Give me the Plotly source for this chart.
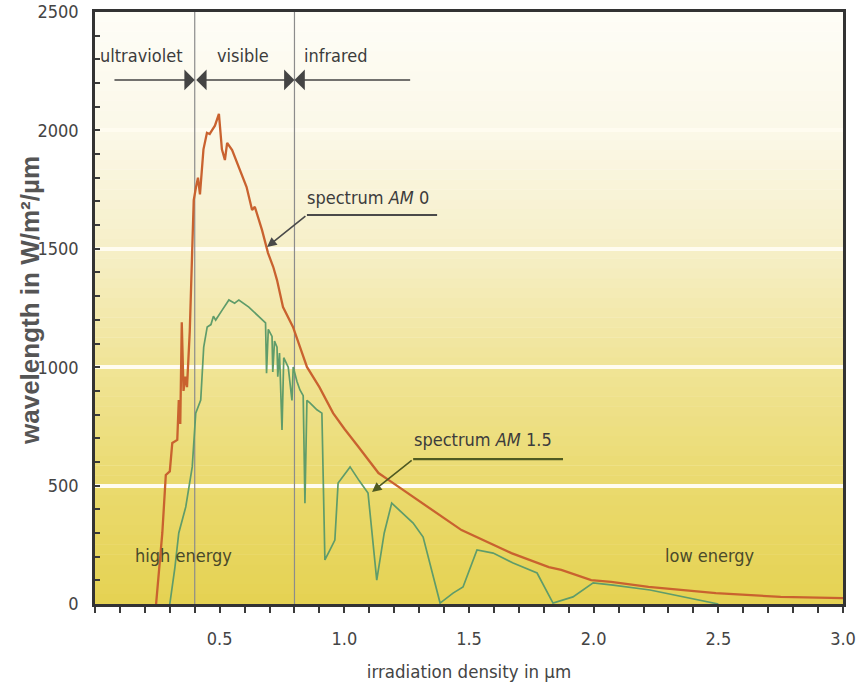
import plotly.graph_objects as go

# ---------------- data ----------------
am0_x = [0.245, 0.26, 0.27, 0.284, 0.30, 0.31, 0.33, 0.336, 0.342, 0.348, 0.355, 0.362, 0.369,
         0.38, 0.396, 0.405, 0.413, 0.421, 0.435, 0.449, 0.46, 0.469, 0.481, 0.497, 0.509, 0.521,
         0.53, 0.55, 0.58, 0.608, 0.63, 0.641, 0.67, 0.694, 0.715, 0.73, 0.754, 0.794, 0.85, 0.9,
         0.955, 1.0, 1.057, 1.137, 1.177, 1.31, 1.47, 1.67, 1.82, 1.87, 1.99, 2.07, 2.22, 2.49,
         2.75, 3.0]
am0_y = [0, 186, 300, 545, 560, 680, 693, 861, 760, 1190, 900, 960, 916,
         1150, 1706, 1760, 1800, 1730, 1920, 1990, 1985, 2000, 2020, 2070, 1920, 1875,
         1947, 1917, 1833, 1761, 1664, 1677, 1579, 1482, 1423, 1368, 1254, 1170, 1001, 916,
         806, 740, 663, 553, 524, 426, 312, 215, 156, 144, 101, 93, 72, 46,
         30, 25]

am15_x = [0.30, 0.32, 0.336, 0.364, 0.39, 0.404, 0.424, 0.436, 0.45, 0.465, 0.475, 0.484, 0.51,
          0.537, 0.56, 0.577, 0.617, 0.64, 0.657, 0.684, 0.688, 0.695, 0.71, 0.713, 0.72, 0.73,
          0.733, 0.74, 0.75, 0.757, 0.775, 0.79, 0.795, 0.81, 0.822, 0.835, 0.842, 0.85, 0.862,
          0.89, 0.91, 0.922, 0.942, 0.962, 0.975, 1.023, 1.06, 1.095, 1.13, 1.16, 1.19, 1.235,
          1.276, 1.316, 1.384, 1.436, 1.476, 1.532, 1.597, 1.677, 1.773, 1.837, 1.917, 1.998,
          2.078, 2.226, 2.36, 2.48, 2.5]
am15_y = [0, 150, 300, 410, 579, 806, 861, 1085, 1170, 1180, 1215, 1199, 1241,
          1284, 1270, 1284, 1254, 1230, 1212, 1187, 975, 1160, 1130, 980, 1110, 1085,
          960, 1060, 735, 1040, 1000, 860, 1001, 940, 904, 880, 426, 860, 849,
          820, 806, 186, 228, 270, 511, 579, 520, 469, 101, 300, 426, 384,
          342, 283, 4, 46, 72, 228, 215, 173, 131, 4, 30, 89,
          80, 59, 30, 4, 0]

x_tick_vals = [0.5, 1.0, 1.5, 2.0, 2.5, 3.0]
x_tick_text = ["0.5", "1.0", "1.5", "2.0", "2.5", "3.0"]
y_tick_vals = [0, 500, 1000, 1500, 2000, 2500]
y_tick_text = ["0", "500", "1000", "1500", "2000", "2500"]

band_bounds = [0.4, 0.8]                      # UV | visible | IR boundaries (µm)
band_names = ["ultraviolet", "visible", "infrared"]
band_label_x = [0.185, 0.594, 0.967]

assert len(am0_x) == len(am0_y)
assert len(am15_x) == len(am15_y)

# ---------------- styling ----------------
NARROW = "DejaVu Sans Condensed, Liberation Sans Narrow, Liberation Sans, sans-serif"
TXT = "#3c3c3c"
X_MAX, Y_MAX = 3.0, 2500
ML, MR, MT, MB = 95, 16, 12, 84
W, H = 859, 688

fig = go.Figure()

fig.add_trace(go.Scatter(x=am0_x, y=am0_y, mode="lines", name="spectrum AM 0",
                         line=dict(color="#c9622f", width=2.3), showlegend=False,
                         hoverinfo="skip"))
fig.add_trace(go.Scatter(x=am15_x, y=am15_y, mode="lines", name="spectrum AM 1.5",
                         line=dict(color="#5f9c6a", width=1.7), showlegend=False,
                         hoverinfo="skip"))

# background gradient (yellow bottom -> white top)
stops = [(0, (0xe5, 0xd2, 0x52)), (500, (0xea, 0xda, 0x6e)), (1000, (0xf0, 0xe4, 0x96)),
         (1500, (0xf6, 0xef, 0xc8)), (2000, (0xfb, 0xf8, 0xe8)), (2500, (0xfe, 0xfd, 0xf7))]


def col_at(v):
    for (v0, c0), (v1, c1) in zip(stops[:-1], stops[1:]):
        if v0 <= v <= v1:
            t = (v - v0) / (v1 - v0)
            return "rgb(%d,%d,%d)" % tuple(round(a + (b - a) * t) for a, b in zip(c0, c1))
    return "rgb(%d,%d,%d)" % stops[-1][1]


shapes = []
n_bands = 60
for i in range(n_bands):
    y0 = Y_MAX * i / n_bands
    y1 = Y_MAX * (i + 1) / n_bands
    shapes.append(dict(type="rect", xref="paper", yref="y", x0=0, x1=1, y0=y0,
                       y1=min(y1 + 2, Y_MAX),
                       fillcolor=col_at((y0 + y1) / 2), line=dict(width=0), layer="below"))

for b in band_bounds:
    shapes.append(dict(type="line", xref="x", yref="y", x0=b, x1=b, y0=0, y1=Y_MAX,
                       line=dict(color="#8c8c8c", width=1.2), layer="between"))

# underlines of the spectrum callouts
shapes.append(dict(type="line", xref="x", yref="y", x0=0.85, x1=1.372, y0=1643, y1=1643,
                   line=dict(color="#4a4a4a", width=2), layer="above"))
shapes.append(dict(type="line", xref="x", yref="y", x0=1.276, x1=1.877, y0=612, y1=612,
                   line=dict(color="#4f5a22", width=2.2), layer="above"))

annotations = []
for name, xc in zip(band_names, band_label_x):
    annotations.append(dict(x=xc, y=2318, xref="x", yref="y", text=name, showarrow=False,
                            font=dict(family=NARROW, size=18, color=TXT)))

arrow_y = 2213
arr = dict(xref="x", yref="y", axref="x", ayref="y", text="", showarrow=True,
           arrowhead=1, arrowsize=2.3, arrowwidth=1.5, arrowcolor="#444444",
           standoff=0, startstandoff=0)
annotations.append(dict(arr, x=band_bounds[0], y=arrow_y, ax=0.072, ay=arrow_y))
annotations.append(dict(arr, x=band_bounds[1], y=arrow_y, ax=band_bounds[0], ay=arrow_y,
                        arrowside="end+start", startarrowhead=1, startarrowsize=2.3))
annotations.append(dict(arr, x=band_bounds[1], y=arrow_y, ax=1.27, ay=arrow_y))

# spectrum callouts
annotations.append(dict(x=1.095, y=1715, xref="x", yref="y", text="spectrum <i>AM</i> 0",
                        showarrow=False, font=dict(family=NARROW, size=18, color=TXT)))
annotations.append(dict(x=0.69, y=1508, ax=0.85, ay=1643, xref="x", yref="y", axref="x",
                        ayref="y", text="", showarrow=True, arrowhead=2, arrowsize=1.2,
                        arrowwidth=1.6, arrowcolor="#4a4a4a", standoff=0, startstandoff=0))
annotations.append(dict(x=1.556, y=693, xref="x", yref="y", text="spectrum <i>AM</i> 1.5",
                        showarrow=False, font=dict(family=NARROW, size=18, color=TXT)))
annotations.append(dict(x=1.111, y=473, ax=1.276, ay=612, xref="x", yref="y", axref="x",
                        ayref="y", text="", showarrow=True, arrowhead=2, arrowsize=1.2,
                        arrowwidth=1.6, arrowcolor="#4f5a22", standoff=0, startstandoff=0))

annotations.append(dict(x=0.353, y=203, xref="x", yref="y", text="high energy", showarrow=False,
                        font=dict(family=NARROW, size=18, color="#4a4a2a")))
annotations.append(dict(x=2.467, y=203, xref="x", yref="y", text="low energy", showarrow=False,
                        font=dict(family=NARROW, size=18, color="#4a4a2a")))

# y-axis title placed as rotated text left of the tick labels
pw, ph = W - ML - MR, H - MT - MB
annotations.append(dict(x=(30 - ML) / pw, y=(H - MB - 301) / ph, xref="paper", yref="paper",
                        text="<b>wavelength in W/m²/µm</b>", textangle=-90, showarrow=False,
                        xanchor="center", yanchor="middle",
                        font=dict(family="Liberation Sans, Arial, sans-serif", size=26,
                                  color="#555555")))

fig.update_layout(
    width=W, height=H,
    margin=dict(l=ML, r=MR, t=MT, b=MB, autoexpand=False),
    paper_bgcolor="white", plot_bgcolor="white",
    shapes=shapes, annotations=annotations,
    showlegend=False,
)

fig.update_xaxes(
    range=[0, X_MAX], tickvals=x_tick_vals, ticktext=x_tick_text,
    ticks="outside", ticklen=6, tickwidth=1.5, tickcolor="#3a3a3a",
    minor=dict(dtick=0.1, tick0=0, ticks="outside", ticklen=6, tickwidth=1.5,
               tickcolor="#3a3a3a", showgrid=False),
    showgrid=False, zeroline=False, automargin=False,
    showline=True, linecolor="#333333", linewidth=3, mirror=True,
    tickfont=dict(family=NARROW, size=18, color="#444444"),
    ticklabelstandoff=10,
    title=dict(text="irradiation density in µm",
               font=dict(family=NARROW, size=18.5, color="#444444"), standoff=18),
)
fig.update_yaxes(
    range=[0, Y_MAX], tickvals=y_tick_vals, ticktext=y_tick_text,
    ticks="inside", ticklen=5, tickwidth=1.5, tickcolor="#3a3a3a",
    minor=dict(dtick=100, tick0=0, ticks="inside", ticklen=5, tickwidth=1.5,
               tickcolor="#3a3a3a", showgrid=False),
    showgrid=True, gridcolor="#fffcf0", gridwidth=3.5,
    zeroline=False, automargin=False,
    showline=True, linecolor="#333333", linewidth=2.5, mirror=True,
    tickfont=dict(family=NARROW, size=18, color="#444444"),
    ticklabelstandoff=10,
)

fig.write_html("out.html", config={"displayModeBar": False},
               post_script="document.body.style.margin='0';document.body.style.padding='0';")
